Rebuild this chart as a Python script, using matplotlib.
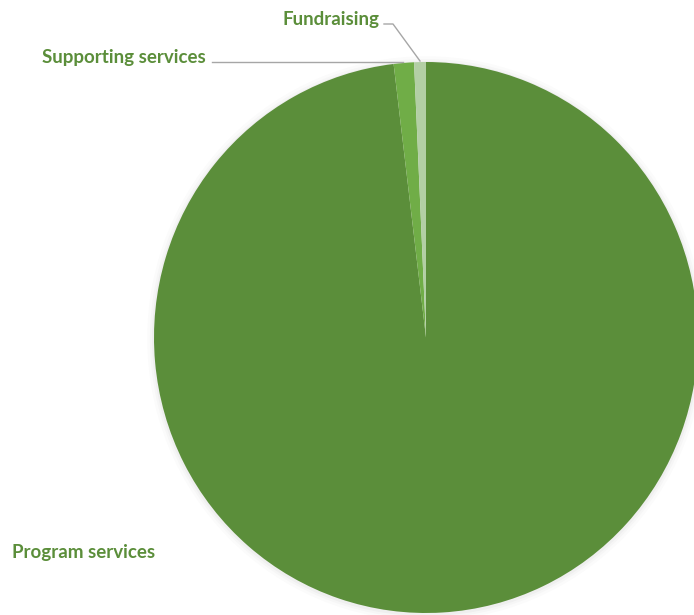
import matplotlib
matplotlib.use("Agg")
import matplotlib.pyplot as plt
from matplotlib.patches import Ellipse

categories = ["Program services", "Supporting services", "Fundraising"]
shares = [98.1, 1.2, 0.7]  # percent of expenses

slice_colors = ["#5b8e3a", "#70ad47", "#b3cfa5"]
text_color = "#5b8e3a"
line_color = "#a6a6a6"

W, H = 694, 615
fig = plt.figure(figsize=(W / 100, H / 100), dpi=100)

# pie box in pixels (left, top, width, height)
pl, pt, pw, ph = 154, 62, 544, 551
pax = fig.add_axes([pl / W, (H - pt - ph) / H, pw / W, ph / H])

# soft shadow behind the pie
for k, a in [(0.025, 0.03), (0.015, 0.04), (0.007, 0.06)]:
    pax.add_patch(Ellipse((0, -0.004), 2 + 2 * k, 2 + 2 * k, color="#808080",
                          alpha=a, lw=0, clip_on=False))

pax.pie(shares, colors=slice_colors, startangle=90, counterclock=False,
        radius=1, wedgeprops=dict(linewidth=0))
pax.set_aspect("auto")
pax.set_xlim(-1, 1)
pax.set_ylim(-1, 1)
pax.axis("off")

# overlay in screen pixels for labels and leader lines
ax = fig.add_axes([0, 0, 1, 1])
ax.set_xlim(0, W)
ax.set_ylim(H, 0)
ax.axis("off")


def txt(x, y, s):
    ax.text(x, y, s, ha="left", va="center", color=text_color,
            fontsize=13.5, fontweight="bold", family="Lato")


txt(12, 552.5, categories[0])
txt(42, 57.5, categories[1])
txt(283, 19.5, categories[2])

ax.plot([212, 403], [62, 62], color=line_color, lw=1)
ax.plot([384, 393, 420], [24, 24, 61], color=line_color, lw=1)

fig.savefig("out.png", dpi=100)
